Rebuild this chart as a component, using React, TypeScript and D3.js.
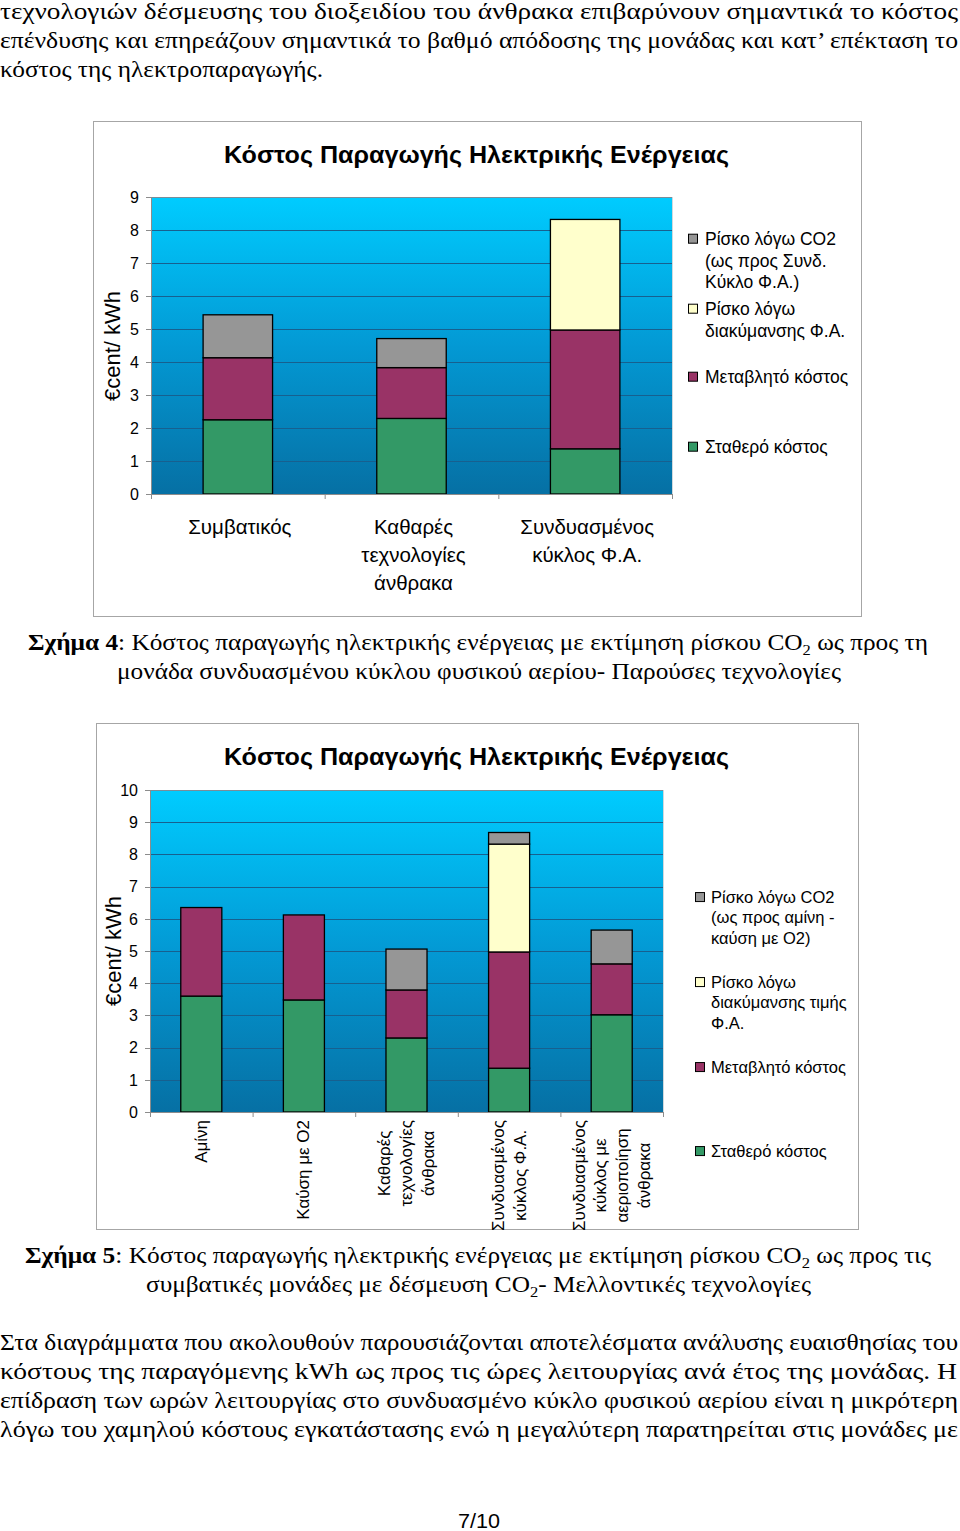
import React from "react";
import * as d3 from "d3";

// ---------- DATA ----------
const chart1Title = "Κόστος Παραγωγής Ηλεκτρικής Ενέργειας";
const chart1Categories = [["Συμβατικός"], ["Καθαρές", "τεχνολογίες", "άνθρακα"], ["Συνδυασμένος", "κύκλος Φ.Α."]];
const chart1Fixed = [2.25, 2.29, 1.37];
const chart1Variable = [1.88, 1.54, 3.6];
const chart1GasRisk = [0, 0, 3.35];
const chart1Co2Risk = [1.3, 0.88, 0];
const chart1Ticks = [0, 1, 2, 3, 4, 5, 6, 7, 8, 9];
const chart1Legend = [
  ["Ρίσκο λόγω CO2", "(ως προς Συνδ.", "Κύκλο Φ.Α.)"],
  ["Ρίσκο λόγω", "διακύμανσης Φ.Α."],
  ["Μεταβλητό κόστος"],
  ["Σταθερό κόστος"],
];

const chart2Title = "Κόστος Παραγωγής Ηλεκτρικής Ενέργειας";
const chart2Categories = [
  ["Αμίνη"],
  ["Καύση με O2"],
  ["Καθαρές", "τεχνολογίες", "άνθρακα"],
  ["Συνδυασμένος", "κύκλος Φ.Α."],
  ["Συνδυασμένος", "κύκλος με", "αεριοποίηση", "άνθρακα"],
];
const chart2Fixed = [3.6, 3.48, 2.3, 1.36, 3.02];
const chart2Variable = [2.75, 2.64, 1.49, 3.61, 1.58];
const chart2GasRisk = [0, 0, 0, 3.35, 0];
const chart2Co2Risk = [0, 0, 1.27, 0.36, 1.05];
const chart2Ticks = [0, 1, 2, 3, 4, 5, 6, 7, 8, 9, 10];
const chart2Legend = [
  ["Ρίσκο λόγω CO2", "(ως προς αμίνη -", "καύση με O2)"],
  ["Ρίσκο λόγω", "διακύμανσης τιμής", "Φ.Α."],
  ["Μεταβλητό κόστος"],
  ["Σταθερό κόστος"],
];

const yAxisLabel = "€cent/ kWh";
const seriesKeys = ["fixed", "variable", "gas", "co2"];
const legendOrder = ["co2", "gas", "variable", "fixed"];
const seriesColors: Record<string, string> = {
  fixed: "#339966",
  variable: "#993366",
  gas: "#FFFFCC",
  co2: "#969696",
};

const topParagraph = [
  "τεχνολογιών δέσμευσης του διοξειδίου του άνθρακα επιβαρύνουν σημαντικά το κόστος",
  "επένδυσης και επηρεάζουν σημαντικά το βαθμό απόδοσης της μονάδας και κατ’ επέκταση το",
  "κόστος της ηλεκτροπαραγωγής.",
];
const bottomParagraph = [
  "Στα διαγράμματα που ακολουθούν παρουσιάζονται αποτελέσματα ανάλυσης ευαισθησίας του",
  "κόστους της παραγόμενης kWh ως προς τις ώρες λειτουργίας ανά έτος της μονάδας. Η",
  "επίδραση των ωρών λειτουργίας στο συνδυασμένο κύκλο φυσικού αερίου είναι η μικρότερη",
  "λόγω του χαμηλού κόστους εγκατάστασης ενώ η μεγαλύτερη παρατηρείται στις μονάδες με",
];
const pageNumber = "7/10";

// ---------- HELPERS ----------
let measureCtx: CanvasRenderingContext2D | null = null;
function textWidth(s: string, font: string): number {
  if (!measureCtx && typeof document !== "undefined") {
    measureCtx = document.createElement("canvas").getContext("2d");
  }
  if (!measureCtx) return s.length * 8;
  measureCtx.font = font;
  return measureCtx.measureText(s).width;
}

const SANS = "'Liberation Sans', Arial, sans-serif";
const SERIF = "'Liberation Serif', 'Times New Roman', serif";

type ChartProps = {
  frame: { x: number; y: number; w: number; h: number };
  plot: { l: number; r: number; t: number; b: number };
  title: string;
  titleY: number;
  titleW: number;
  yMax: number;
  ticks: number[];
  cats: string[][];
  fixed: number[];
  variable: number[];
  gas: number[];
  co2: number[];
  legend: string[][];
  legendBase: number[];
  legendLineH: number;
  legendFs: number;
  legendSqX: number;
  legendTextX: number;
  yLabelPos: { x: number; y: number };
  tickFs: number;
  rotated: boolean;
  labelFs: number;
};

function StackedChart(p: ChartProps) {
  const x = d3
    .scaleBand<string>()
    .domain(p.cats.map((_, i) => String(i)))
    .range([p.plot.l, p.plot.r])
    .paddingInner(0.6)
    .paddingOuter(0.3);
  const y = d3.scaleLinear().domain([0, p.yMax]).range([p.plot.b, p.plot.t]);
  const rows = p.cats.map((_, i) => ({
    key: String(i),
    fixed: p.fixed[i],
    variable: p.variable[i],
    gas: p.gas[i],
    co2: p.co2[i],
  }));
  const stacked = d3.stack<any>().keys(seriesKeys)(rows);
  const step = x.step();
  const boundaries = d3.range(p.cats.length + 1).map((i) => p.plot.l + i * step);
  const gradId = "bg" + Math.round(p.plot.t);

  const labelFs = p.labelFs;
  const labelFont = `${labelFs}px ${SANS}`;

  return (
    <g>
      <defs>
        <linearGradient id={gradId} x1="0" y1="0" x2="0" y2="1">
          <stop offset="0" stopColor="#00CCFF" />
          <stop offset="0.5" stopColor="#0399D4" />
          <stop offset="1" stopColor="#0670A4" />
        </linearGradient>
      </defs>
      <rect
        x={p.frame.x}
        y={p.frame.y}
        width={p.frame.w}
        height={p.frame.h}
        fill="#ffffff"
        stroke="#a6a6a6"
        strokeWidth={1}
      />
      <text
        x={(p.frame.x + p.frame.x + p.frame.w) / 2 - 1}
        y={p.titleY}
        textAnchor="middle"
        fontFamily={SANS}
        fontWeight="bold"
        fontSize={24}
        textLength={p.titleW}
        lengthAdjust="spacingAndGlyphs"
        fill="#000"
      >
        {p.title}
      </text>
      {/* plot background */}
      <rect
        x={p.plot.l}
        y={p.plot.t}
        width={p.plot.r - p.plot.l}
        height={p.plot.b - p.plot.t}
        fill={`url(#${gradId})`}
      />
      {/* gridlines */}
      {p.ticks
        .filter((t) => t > 0)
        .map((t) => (
          <line
            key={"g" + t}
            x1={p.plot.l}
            x2={p.plot.r}
            y1={Math.round(y(t)) + 0.5}
            y2={Math.round(y(t)) + 0.5}
            stroke={t === p.yMax ? "#7a8d99" : "#17608f"}
            strokeWidth={1}
          />
        ))}
      <line x1={p.plot.r + 0.5} x2={p.plot.r + 0.5} y1={p.plot.t} y2={p.plot.b} stroke="#d0d8dc" strokeWidth={1} />
      {/* bars */}
      {stacked.map((layer: any) =>
        layer.map((d: any, i: number) => {
          const v = d[1] - d[0];
          if (v <= 0) return null;
          return (
            <rect
              key={layer.key + i}
              x={x(String(i))!}
              y={y(d[1])}
              width={x.bandwidth()}
              height={y(d[0]) - y(d[1])}
              fill={seriesColors[layer.key]}
              stroke="#000"
              strokeWidth={1.3}
            />
          );
        })
      )}
      {/* axes */}
      <line x1={p.plot.l + 0.5} x2={p.plot.l + 0.5} y1={p.plot.t} y2={p.plot.b + 5} stroke="#8c8c8c" strokeWidth={1} />
      <line x1={p.plot.l - 5} x2={p.plot.r} y1={p.plot.b + 0.5} y2={p.plot.b + 0.5} stroke="#8c8c8c" strokeWidth={1} />
      {p.ticks.map((t) => (
        <g key={"t" + t}>
          <line
            x1={p.plot.l - 5}
            x2={p.plot.l}
            y1={Math.round(y(t)) + 0.5}
            y2={Math.round(y(t)) + 0.5}
            stroke="#8c8c8c"
          />
          <text
            x={p.plot.l - 12}
            y={y(t) + p.tickFs * 0.36}
            textAnchor="end"
            fontFamily={SANS}
            fontSize={p.tickFs}
            fill="#000"
          >
            {t}
          </text>
        </g>
      ))}
      {boundaries.map((bx, i) => (
        <line key={"xb" + i} x1={bx + 0.5} x2={bx + 0.5} y1={p.plot.b} y2={p.plot.b + 5} stroke="#8c8c8c" />
      ))}
      {/* y label */}
      <text
        transform={`translate(${p.yLabelPos.x},${p.yLabelPos.y}) rotate(-90)`}
        textAnchor="middle"
        fontFamily={SANS}
        fontSize={22}
        fill="#000"
      >
        {yAxisLabel}
      </text>
      {/* x labels */}
      {p.cats.map((lines, i) => {
        const cx = x(String(i))! + x.bandwidth() / 2;
        if (!p.rotated) {
          return lines.map((ln, j) => (
            <text
              key={"xl" + i + j}
              x={cx + 2}
              y={p.plot.b + 40 + j * 28}
              textAnchor="middle"
              fontFamily={SANS}
              fontSize={labelFs}
              fill="#000"
            >
              {ln}
            </text>
          ));
        }
        const maxW = Math.max(...lines.map((ln) => textWidth(ln, labelFont)));
        const cy = p.plot.b + 8 + maxW / 2;
        const sp = 21.8;
        return lines.map((ln, j) => {
          const lx = cx + (j - (lines.length - 1) / 2) * sp + 5.5;
          return (
            <text
              key={"xl" + i + j}
              transform={`translate(${lx},${cy}) rotate(-90)`}
              textAnchor="middle"
              fontFamily={SANS}
              fontSize={labelFs}
              fill="#000"
            >
              {ln}
            </text>
          );
        });
      })}
      {/* legend */}
      {legendOrder.map((key, k) => {
        const base = p.legendBase[k];
        const sq = 9;
        return (
          <g key={"lg" + key}>
            <rect
              x={p.legendSqX + 0.5}
              y={base - p.legendFs * 0.36 - sq / 2}
              width={sq}
              height={sq}
              fill={seriesColors[key]}
              stroke="#000"
              strokeWidth={1}
            />
            {p.legend[k].map((ln, j) => (
              <text
                key={"lt" + j}
                x={p.legendTextX}
                y={base + j * p.legendLineH}
                fontFamily={SANS}
                fontSize={p.legendFs}
                fill="#000"
              >
                {ln}
              </text>
            ))}
          </g>
        );
      })}
    </g>
  );
}

function BodyLine({ text, x0, x1, y }: { text: string; x0: number; x1: number; y: number }) {
  return (
    <text
      x={x0}
      y={y}
      fontFamily={SERIF}
      fontSize={23}
      textLength={x1 - x0}
      lengthAdjust="spacingAndGlyphs"
      fill="#000"
    >
      {text}
    </text>
  );
}

function Caption({
  num,
  pre,
  post,
  x0,
  x1,
  y,
}: {
  num: string;
  pre: string;
  post: string;
  x0: number;
  x1: number;
  y: number;
}) {
  return (
    <text
      x={x0}
      y={y}
      fontFamily={SERIF}
      fontSize={23}
      textLength={x1 - x0}
      lengthAdjust="spacingAndGlyphs"
      fill="#000"
    >
      {num && <tspan fontWeight="bold">{num}</tspan>}
      {pre}
      {post !== null && (
        <>
          <tspan dy={5} fontSize={15}>
            2
          </tspan>
          <tspan dy={-5}>{post}</tspan>
        </>
      )}
    </text>
  );
}

export default function App() {
  const topLayout = [
    { x0: 0, x1: 958, y: 19 },
    { x0: 0, x1: 958, y: 48 },
    { x0: 0, x1: 323, y: 77 },
  ];
  const bottomLayout = [
    { x0: 0, x1: 958, y: 1350 },
    { x0: 0, x1: 957, y: 1379 },
    { x0: 0, x1: 958, y: 1408 },
    { x0: 0, x1: 958, y: 1437 },
  ];
  return (
    <svg
      width={960}
      height={1531}
      viewBox="0 0 960 1531"
      style={{ position: "absolute", left: 0, top: 0, background: "#fff" }}
    >
      <rect x={0} y={0} width={960} height={1531} fill="#fff" />
      {topParagraph.map((t, i) => (
        <BodyLine key={"tp" + i} text={t} {...topLayout[i]} />
      ))}
      <StackedChart
        frame={{ x: 93.5, y: 121.5, w: 768, h: 495 }}
        plot={{ l: 151, r: 672, t: 197, b: 494 }}
        title={chart1Title}
        titleY={163}
        titleW={505}
        yMax={9}
        ticks={chart1Ticks}
        cats={chart1Categories}
        fixed={chart1Fixed}
        variable={chart1Variable}
        gas={chart1GasRisk}
        co2={chart1Co2Risk}
        legend={chart1Legend}
        legendBase={[245, 315, 383, 453]}
        legendLineH={21.5}
        legendFs={17.5}
        legendSqX={688}
        legendTextX={705}
        yLabelPos={{ x: 120, y: 346 }}
        tickFs={16}
        rotated={false}
        labelFs={20.5}
      />
      <Caption
        num="Σχήμα 4"
        pre=": Κόστος παραγωγής ηλεκτρικής ενέργειας με εκτίμηση ρίσκου CO"
        post=" ως προς τη"
        x0={28}
        x1={928}
        y={650}
      />
      <BodyLine text="μονάδα συνδυασμένου κύκλου φυσικού αερίου- Παρούσες τεχνολογίες" x0={117} x1={841} y={679} />
      <StackedChart
        frame={{ x: 96.5, y: 723.5, w: 762, h: 506 }}
        plot={{ l: 150, r: 663, t: 790, b: 1112 }}
        title={chart2Title}
        titleY={765}
        titleW={505}
        yMax={10}
        ticks={chart2Ticks}
        cats={chart2Categories}
        fixed={chart2Fixed}
        variable={chart2Variable}
        gas={chart2GasRisk}
        co2={chart2Co2Risk}
        legend={chart2Legend}
        legendBase={[903, 988, 1073, 1157]}
        legendLineH={20.3}
        legendFs={16.5}
        legendSqX={695}
        legendTextX={711}
        yLabelPos={{ x: 121, y: 951 }}
        tickFs={16}
        rotated={true}
        labelFs={17}
      />
      <Caption
        num="Σχήμα 5"
        pre=": Κόστος παραγωγής ηλεκτρικής ενέργειας με εκτίμηση ρίσκου CO"
        post=" ως προς τις"
        x0={25}
        x1={931}
        y={1263}
      />
      <Caption num="" pre="συμβατικές μονάδες με δέσμευση CO" post="- Μελλοντικές τεχνολογίες" x0={146} x1={811} y={1292} />
      {bottomParagraph.map((t, i) => (
        <BodyLine key={"bp" + i} text={t} {...bottomLayout[i]} />
      ))}
      <text
        x={458}
        y={1528}
        fontFamily={SANS}
        fontSize={21}
        textLength={42}
        lengthAdjust="spacingAndGlyphs"
        fill="#000"
      >
        {pageNumber}
      </text>
    </svg>
  );
}
